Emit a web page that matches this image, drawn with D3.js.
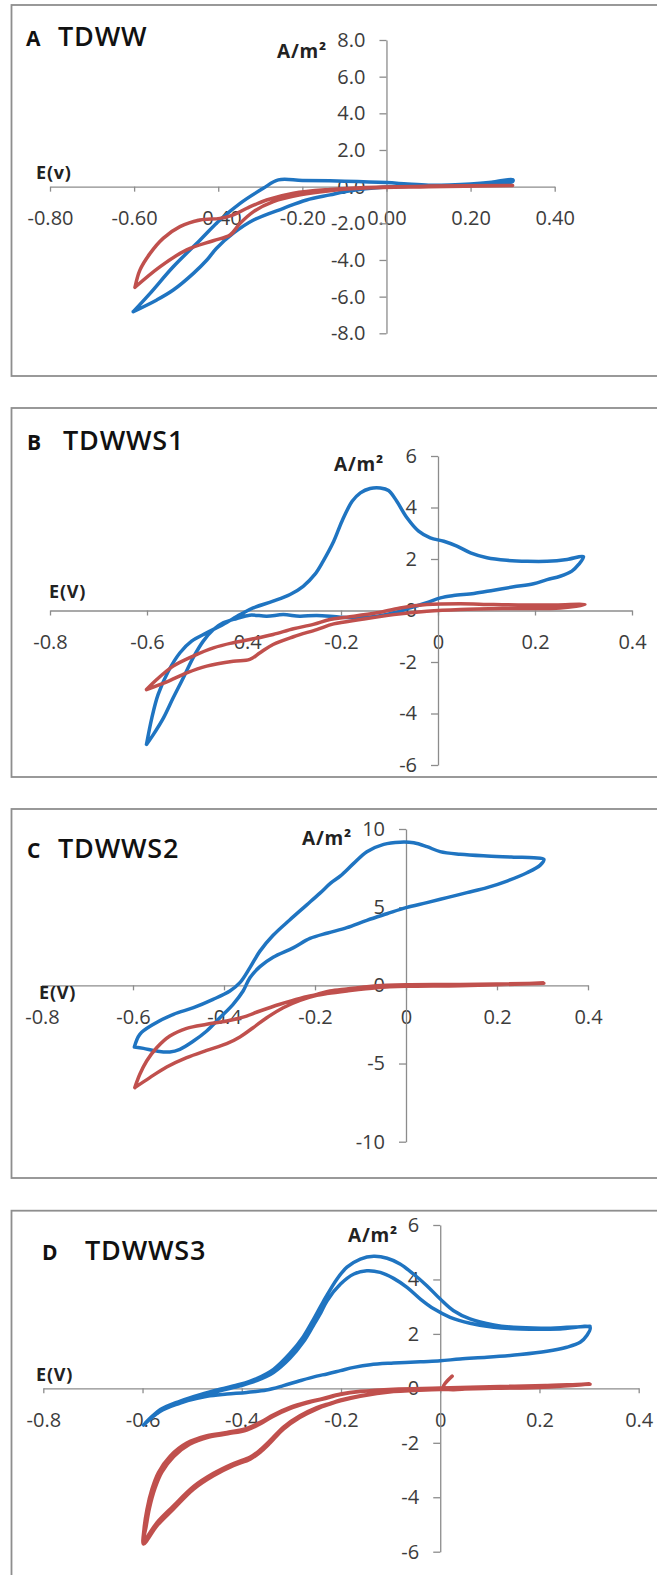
<!DOCTYPE html>
<html><head><meta charset="utf-8">
<script src="https://cdn.jsdelivr.net/npm/d3@7"></script>
<style>body{margin:0;background:#fff}svg{display:block}</style>
</head><body>
<script>
// ---------------- DATA ----------------
const xTicks = [-0.8,-0.6,-0.4,-0.2,0,0.2,0.4];
const xTickLabelsA = ["-0.80","-0.60","-0.40","-0.20","0.00","0.20","0.40"];
const xTickLabels = ["-0.8","-0.6","-0.4","-0.2","0","0.2","0.4"];
const yTicksA = [8,6,4,2,0,-2,-4,-6,-8];
const yTickLabelsA = ["8.0","6.0","4.0","2.0","0.0","-2.0","-4.0","-6.0","-8.0"];
const yTicksBD = [6,4,2,0,-2,-4,-6];
const yTickLabelsBD = ["6","4","2","0","-2","-4","-6"];
const yTicksC = [10,5,0,-5,-10];
const yTickLabelsC = ["10","5","0","-5","-10"];

const panelLetters = ["A","B","C","D"];
const panelNames = ["TDWW","TDWWS1","TDWWS2","TDWWS3"];
const xAxisTitles = ["E(v)","E(V)","E(V)","E(V)"];
const yAxisTitle = "A/m²";

// [E (V), j (A/m²)]
const blueA = [[-0.602,-6.82],[-0.562,-5.82],[-0.507,-4.37],[-0.443,-2.91],[-0.396,-1.82],[-0.348,-0.91],[-0.293,-0.09],[-0.257,0.37],
 [-0.20,0.34],[-0.10,0.30],[0.0,0.22],[0.05,0.14],[0.10,0.08],[0.15,0.09],[0.20,0.14],[0.25,0.24],[0.30,0.38],
 [0.30,0.28],[0.25,0.14],[0.20,0.08],[0.10,0.03],[0.0,-0.02],[-0.05,-0.12],[-0.10,-0.28],[-0.134,-0.45],
 [-0.19,-0.73],[-0.245,-1.18],[-0.316,-1.82],[-0.364,-2.54],[-0.404,-3.36],[-0.427,-4.0],[-0.459,-4.73],[-0.507,-5.64],[-0.546,-6.18],[-0.602,-6.82]];
const redA = [[-0.598,-5.49],[-0.586,-4.54],[-0.562,-3.64],[-0.531,-2.82],[-0.491,-2.18],[-0.443,-1.82],[-0.396,-1.73],[-0.364,-1.54],[-0.332,-1.18],[-0.285,-0.73],[-0.221,-0.36],[-0.134,-0.15],[-0.05,-0.04],[0.1,0.03],[0.3,0.06],
 [0.1,-0.01],[-0.05,-0.08],[-0.134,-0.22],[-0.205,-0.45],[-0.269,-0.82],[-0.316,-1.36],[-0.348,-2.0],[-0.372,-2.64],[-0.412,-2.95],[-0.475,-3.45],[-0.538,-4.36],[-0.598,-5.49]];

const blueB = [[-0.601,-5.20],[-0.590,-4.17],[-0.577,-3.26],[-0.556,-2.36],[-0.532,-1.64],[-0.508,-1.19],[-0.477,-0.87],[-0.443,-0.54],[-0.408,-0.16],[-0.381,0.10],[-0.340,0.36],[-0.305,0.62],[-0.278,0.94],[-0.254,1.40],[-0.237,1.91],[-0.215,2.69],[-0.198,3.47],[-0.177,4.24],[-0.160,4.57],[-0.140,4.74],[-0.119,4.76],[-0.102,4.66],[-0.085,4.24],[-0.064,3.60],[-0.040,3.08],[-0.016,2.82],[0.012,2.69],[0.039,2.50],[0.067,2.24],[0.101,2.05],[0.142,1.95],[0.184,1.91],[0.225,1.91],[0.266,1.98],[0.300,2.09],
 [0.290,1.79],[0.276,1.53],[0.252,1.33],[0.225,1.20],[0.197,1.04],[0.156,0.92],[0.115,0.79],[0.074,0.66],[0.032,0.58],[0.005,0.49],[-0.023,0.30],[-0.057,0.10],[-0.091,-0.09],[-0.126,-0.22],[-0.160,-0.28],[-0.201,-0.26],[-0.250,-0.19],[-0.285,-0.22],[-0.319,-0.16],[-0.353,-0.22],[-0.388,-0.18],[-0.415,-0.31],[-0.443,-0.48],[-0.463,-0.74],[-0.484,-1.19],[-0.505,-1.84],[-0.525,-2.61],[-0.546,-3.39],[-0.566,-4.17],[-0.587,-4.82],[-0.601,-5.20]];
const redB = [[-0.601,-3.07],[-0.580,-2.68],[-0.546,-2.16],[-0.505,-1.77],[-0.463,-1.45],[-0.422,-1.25],[-0.381,-1.10],[-0.340,-0.93],[-0.298,-0.71],[-0.257,-0.54],[-0.223,-0.35],[-0.188,-0.26],[-0.126,-0.09],[-0.078,0.10],[-0.023,0.23],[0.046,0.26],[0.115,0.23],[0.218,0.21],[0.303,0.23],
 [0.252,0.10],[0.149,0.08],[0.046,0.04],[-0.023,-0.03],[-0.091,-0.16],[-0.160,-0.35],[-0.215,-0.52],[-0.250,-0.74],[-0.298,-1.02],[-0.340,-1.32],[-0.367,-1.64],[-0.388,-1.90],[-0.422,-1.97],[-0.477,-2.16],[-0.518,-2.42],[-0.559,-2.77],[-0.601,-3.07]];

const blueC = [[-0.597,-3.94],[-0.585,-3.13],[-0.555,-2.49],[-0.511,-1.85],[-0.467,-1.43],[-0.424,-0.90],[-0.387,-0.36],[-0.365,0.17],[-0.343,1.13],[-0.321,2.19],[-0.292,3.2],[-0.255,4.2],[-0.218,5.15],[-0.189,5.9],[-0.165,6.55],[-0.144,7.0],[-0.115,7.8],[-0.086,8.55],[-0.049,9.02],[-0.013,9.16],[0.017,9.12],[0.046,8.87],[0.075,8.55],[0.119,8.38],[0.178,8.27],[0.237,8.20],[0.281,8.16],[0.303,8.06],
 [0.295,7.69],[0.266,7.20],[0.222,6.67],[0.178,6.25],[0.134,5.93],[0.090,5.61],[0.046,5.29],[0.0,4.97],[-0.042,4.58],[-0.086,4.16],[-0.130,3.69],[-0.172,3.35],[-0.211,3.0],[-0.248,2.4],[-0.292,1.8],[-0.321,1.2],[-0.343,0.49],[-0.358,-0.36],[-0.380,-1.21],[-0.409,-2.07],[-0.438,-2.92],[-0.467,-3.56],[-0.497,-4.09],[-0.519,-4.26],[-0.548,-4.20],[-0.577,-4.03],[-0.597,-3.94]];
const redC = [[-0.596,-6.54],[-0.585,-5.69],[-0.570,-4.84],[-0.548,-3.99],[-0.519,-3.24],[-0.482,-2.75],[-0.438,-2.49],[-0.394,-2.28],[-0.358,-2.03],[-0.321,-1.64],[-0.277,-1.21],[-0.233,-0.83],[-0.196,-0.58],[-0.167,-0.36],[-0.130,-0.23],[-0.086,-0.09],[-0.042,0.0],[0.0,0.04],[0.119,0.06],[0.303,0.13],
 [0.119,-0.02],[0.0,-0.06],[-0.064,-0.15],[-0.130,-0.36],[-0.174,-0.53],[-0.196,-0.64],[-0.233,-0.96],[-0.270,-1.43],[-0.306,-2.07],[-0.336,-2.71],[-0.365,-3.30],[-0.394,-3.73],[-0.438,-4.16],[-0.482,-4.62],[-0.526,-5.22],[-0.563,-5.90],[-0.596,-6.54]];

const blueD = [[-0.598,-1.35],[-0.564,-0.84],[-0.524,-0.54],[-0.484,-0.30],[-0.444,-0.09],[-0.403,0.09],[-0.370,0.28],[-0.336,0.58],[-0.303,1.10],[-0.276,1.70],[-0.256,2.30],[-0.240,2.80],[-0.228,3.22],[-0.201,3.83],[-0.174,4.20],[-0.148,4.32],[-0.121,4.26],[-0.094,4.04],[-0.067,3.71],[-0.040,3.28],[-0.013,2.92],[0.020,2.61],[0.060,2.39],[0.108,2.24],[0.161,2.18],[0.242,2.18],[0.302,2.24],
 [0.295,1.93],[0.282,1.69],[0.255,1.51],[0.215,1.36],[0.161,1.24],[0.094,1.14],[0.040,1.08],[0.0,1.01],[-0.040,0.98],[-0.094,0.93],[-0.141,0.87],[-0.174,0.77],[-0.201,0.65],[-0.228,0.53],[-0.249,0.45],[-0.283,0.28],[-0.316,0.10],[-0.350,-0.06],[-0.390,-0.15],[-0.430,-0.21],[-0.470,-0.29],[-0.511,-0.46],[-0.551,-0.70],[-0.578,-0.98],[-0.598,-1.35],
 [-0.564,-0.78],[-0.524,-0.47],[-0.484,-0.23],[-0.444,-0.03],[-0.403,0.15],[-0.370,0.36],[-0.336,0.70],[-0.303,1.28],[-0.276,1.90],[-0.256,2.52],[-0.236,3.18],[-0.208,4.02],[-0.188,4.45],[-0.161,4.75],[-0.134,4.85],[-0.107,4.78],[-0.081,4.57],[-0.054,4.20],[-0.027,3.77],[0.0,3.28],[0.027,2.85],[0.060,2.55],[0.108,2.33],[0.148,2.24],[0.208,2.21],[0.255,2.24],[0.302,2.28]];
const redD = [[0.024,0.45],[0.006,0.02],[0.108,0.05],[0.208,0.10],[0.302,0.16],
 [0.208,0.04],[0.108,0.0],[0.0,-0.04],[-0.094,-0.12],[-0.161,-0.29],[-0.201,-0.46],[-0.222,-0.58],[-0.249,-0.76],[-0.283,-1.07],[-0.316,-1.50],[-0.343,-2.01],[-0.363,-2.35],[-0.383,-2.60],[-0.417,-2.84],[-0.457,-3.21],[-0.497,-3.70],[-0.538,-4.44],[-0.571,-5.05],[-0.598,-5.72],
 [-0.597,-5.17],[-0.591,-4.44],[-0.581,-3.70],[-0.568,-3.09],[-0.544,-2.48],[-0.511,-2.01],[-0.470,-1.74],[-0.430,-1.62],[-0.390,-1.47],[-0.363,-1.25],[-0.336,-0.97],[-0.303,-0.70],[-0.269,-0.51],[-0.236,-0.37],[-0.201,-0.21],[-0.161,-0.11],[-0.094,-0.04],[0.0,0.0],[0.108,0.05],[0.208,0.10],[0.302,0.16],
 [0.208,0.05],[0.108,0.01],[0.0,-0.03],[-0.094,-0.11],[-0.161,-0.27],[-0.201,-0.43],[-0.222,-0.55],[-0.249,-0.71],[-0.283,-1.01],[-0.316,-1.42],[-0.343,-1.92],[-0.363,-2.26],[-0.383,-2.52],[-0.417,-2.76],[-0.457,-3.12],[-0.497,-3.60],[-0.538,-4.32],[-0.571,-4.93],[-0.598,-5.62],
 [-0.593,-5.10],[-0.586,-4.40],[-0.575,-3.68],[-0.561,-3.08],[-0.537,-2.50],[-0.505,-2.05],[-0.466,-1.79],[-0.428,-1.67],[-0.390,-1.53],[-0.363,-1.31],[-0.336,-1.02],[-0.303,-0.74],[-0.269,-0.54],[-0.236,-0.39],[-0.201,-0.23],[-0.161,-0.12],[-0.094,-0.03],[0.0,0.01],[0.150,0.08],[0.302,0.15]];

// ---------------- LAYOUT ----------------
const W = 657, H = 1575;
const BLUE = "#1f74c1", RED = "#c0504d";
const panels = [
 {box:[11.5,5,720,376], xr:[50,554.7], yr:[40,333.3], yd:[8,-8], yt:yTicksA, yl:yTickLabelsA, xl:xTickLabelsA, blue:blueA, red:redA,
  letter:[26,46], name:[58,46], yLab:[277,58], xLab:[36,179]},
 {box:[11.5,408,720,777], xr:[50,632], yr:[456,765], yd:[6,-6], yt:yTicksBD, yl:yTickLabelsBD, xl:xTickLabels, blue:blueB, red:redB,
  letter:[27,450], name:[63,450], yLab:[334,471], xLab:[49,598]},
 {box:[11.5,809,720,1178], xr:[42,588], yr:[829,1141.7], yd:[10,-10], yt:yTicksC, yl:yTickLabelsC, xl:xTickLabels, blue:blueC, red:redC,
  letter:[27,858], name:[58,858], yLab:[302,845], xLab:[39,999]},
 {box:[11.5,1210.7,720,1600], xr:[43.3,638.7], yr:[1225,1551.7], yd:[6,-6], yt:yTicksBD, yl:yTickLabelsBD, xl:xTickLabels, blue:blueD, red:redD,
  letter:[42,1260], name:[85,1260], yLab:[348,1242], xLab:[36,1381]}
];

const svg = d3.select("body").append("svg").attr("width",W).attr("height",H)
  .style("font-family","'Open Sans', 'DejaVu Sans', sans-serif");

panels.forEach((p,i)=>{
  const g = svg.append("g");
  g.append("rect").attr("x",p.box[0]).attr("y",p.box[1]).attr("width",p.box[2]-p.box[0]).attr("height",p.box[3]-p.box[1])
    .attr("fill","#fff").attr("stroke","#8e8e8e").attr("stroke-width",1.8);

  const x = d3.scaleLinear().domain([-0.8,0.4]).range(p.xr);
  const y = d3.scaleLinear().domain(p.yd).range(p.yr);

  const xAxis = d3.axisBottom(x).tickValues(xTicks).tickSize(5).tickSizeOuter(0).tickPadding(19)
      .tickFormat((d,k)=>p.xl[k]);
  const yAxis = d3.axisLeft(y).tickValues(p.yt).tickSize(7).tickSizeOuter(0).tickPadding(14)
      .tickFormat((d,k)=>p.yl[k]);

  const gx = g.append("g").attr("transform",`translate(0,${y(0)})`).call(xAxis);
  const gy = g.append("g").attr("transform",`translate(${x(0)},0)`).call(yAxis);
  [gx,gy].forEach(a=>{
    a.attr("font-family",null).attr("font-size",null);
    a.select(".domain").attr("stroke","#8c8c8c").attr("stroke-width",1.3);
    a.selectAll(".tick line").attr("stroke","#8c8c8c").attr("stroke-width",1.3);
    a.selectAll(".tick text").attr("fill","#3c3c3c").style("font-size","20px");
  });

  // titles
  g.append("text").attr("x",p.letter[0]).attr("y",p.letter[1]).text(panelLetters[i])
    .style("font-size","21px").style("font-weight","700").attr("fill","#111");
  g.append("text").attr("x",p.name[0]).attr("y",p.name[1]).text(panelNames[i])
    .style("font-size","27px").style("font-weight","600").style("letter-spacing","0.8px").attr("fill","#111");
  g.append("text").attr("x",p.yLab[0]).attr("y",p.yLab[1]).text(yAxisTitle)
    .style("font-size","19px").style("font-weight","700").style("letter-spacing","0.8px").attr("fill","#222");
  g.append("text").attr("x",p.xLab[0]).attr("y",p.xLab[1]).text(xAxisTitles[i])
    .style("font-size","18px").style("font-weight","700").style("letter-spacing","0.8px").attr("fill","#222");

  const line = d3.line().x(d=>x(d[0])).y(d=>y(d[1])).curve(d3.curveCatmullRom.alpha(0.5));
  g.append("path").datum(p.blue).attr("d",line).attr("fill","none").attr("stroke",BLUE)
    .attr("stroke-width",3.5).attr("stroke-linejoin","round").attr("stroke-linecap","round");
  g.append("path").datum(p.red).attr("d",line).attr("fill","none").attr("stroke",RED)
    .attr("stroke-width",3.5).attr("stroke-linejoin","round").attr("stroke-linecap","round");
});
</script>
</body></html>
